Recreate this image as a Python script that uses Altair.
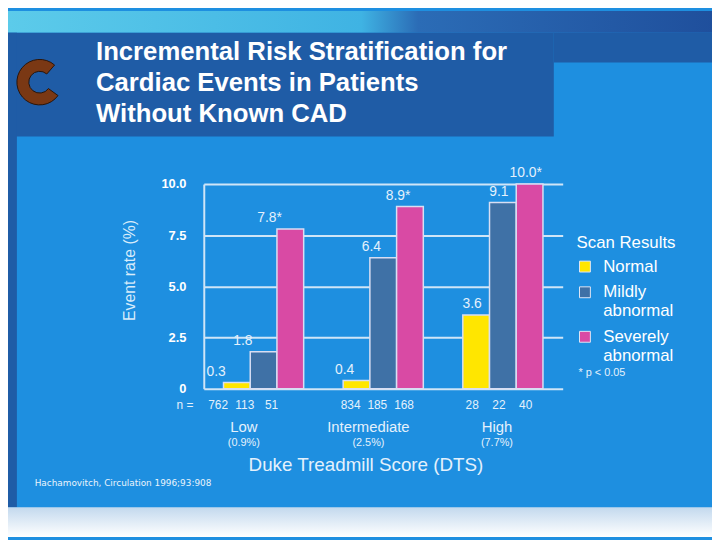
import altair as alt
import pandas as pd

# ---------------- data ----------------
groups = ["Low", "Intermediate", "High"]
group_rates = ["(0.9%)", "(2.5%)", "(7.7%)"]
scans = ["Normal", "Mildly abnormal", "Severely abnormal"]
scan_colors = ["#ffe600", "#3f71a6", "#d94aa4"]

rate_low = [0.3, 1.8, 7.8]
rate_intermediate = [0.4, 6.4, 8.9]
rate_high = [3.6, 9.1, 10.0]

sig_low = [False, False, True]
sig_intermediate = [False, False, True]
sig_high = [False, False, True]

n_low = [762, 113, 51]
n_intermediate = [834, 185, 168]
n_high = [28, 22, 40]

y_ticks = [0, 2.5, 5.0, 7.5, 10.0]

title_lines = ["Incremental Risk Stratification for",
               "Cardiac Events in Patients",
               "Without Known CAD"]
x_title = "Duke Treadmill Score (DTS)"
y_title = "Event rate (%)"
note = "* p < 0.05"
citation = "Hachamovitch, Circulation 1996;93:908"

rows = []
for g, rates, sigs, ns in zip(groups,
                              [rate_low, rate_intermediate, rate_high],
                              [sig_low, sig_intermediate, sig_high],
                              [n_low, n_intermediate, n_high]):
    for s, r, sg, n in zip(scans, rates, sigs, ns):
        rows.append({"group": g, "scan": s, "rate": r,
                     "label": f"{r:.1f}" + ("*" if sg else ""), "n": str(n)})
df = pd.DataFrame(rows)
gdf = pd.DataFrame({"group": groups, "pct": group_rates})
one = pd.DataFrame({"d": [0]})

# ---------------- encodings ----------------
FONT = "Liberation Sans"
LIGHT = "#e4f1fc"

X = alt.X("group:N", sort=groups, axis=None,
          scale=alt.Scale(paddingInner=0.33, paddingOuter=0.165))
XO = alt.XOffset("scan:N", sort=scans,
                 scale=alt.Scale(paddingInner=0, paddingOuter=0))
Y = alt.Y("rate:Q", scale=alt.Scale(domain=[0, 10], nice=False),
          axis=alt.Axis(values=y_ticks,
                        labelExpr="datum.value == 0 ? '0' : format(datum.value, '.1f')",
                        labelFont=FONT, labelFontWeight="bold", labelFontSize=13,
                        labelColor="white", labelPadding=18, ticks=False,
                        domainColor="#cfe5f7", domainWidth=2,
                        grid=True, gridColor="#cfe5f7", gridWidth=2, gridOpacity=1,
                        title=y_title, titleFont=FONT, titleFontSize=16,
                        titleFontWeight="normal", titleColor="#d8ecfb",
                        titleAngle=270, titleX=-75, titleY=87,
                        titleAlign="center", titleBaseline="middle"))
C = alt.Color("scan:N", sort=scans,
              scale=alt.Scale(domain=scans, range=scan_colors),
              legend=alt.Legend(title="Scan Results", orient="none",
                                legendX=377, legendY=52,
                                titleFont=FONT, titleFontSize=17,
                                titleFontWeight="normal", titleColor="white",
                                titlePadding=6,
                                labelFont=FONT, labelFontSize=17, labelColor="white",
                                labelExpr="split(datum.label, ' ')",
                                symbolType="square", symbolSize=121,
                                symbolStrokeColor="#dfe6f5", symbolStrokeWidth=1,
                                symbolOpacity=1, labelOffset=10, rowPadding=8))

# ---------------- decorations ----------------
def box(x1, x2, y1, y2, color):
    return alt.Chart(one).mark_rect(color=color).encode(
        x=alt.value(x1), x2=alt.value(x2), y=alt.value(y1), y2=alt.value(y2))

top_grad = alt.Gradient(gradient="linear", x1=0, x2=1, y1=0, y2=0,
                        stops=[alt.GradientStop(color="#5ccbea", offset=0),
                               alt.GradientStop(color="#3fb3e3", offset=0.5),
                               alt.GradientStop(color="#2b6cb6", offset=0.58),
                               alt.GradientStop(color="#1f4f9c", offset=1)])
bottom_grad = alt.Gradient(gradient="linear", x1=0, x2=0, y1=0, y2=1,
                           stops=[alt.GradientStop(color="#c3d9ee", offset=0),
                                  alt.GradientStop(color="#ffffff", offset=1)])

decor = [
    box(-198, 517, -175, -153, top_grad),
    box(-198, 354, -153, -48, "#1f5ca6"),
    box(354, 517, -153, -123, "#1f5ca6"),
    box(-198, -189, -153, 327, "#1f5ca6"),
    box(-198, 517, 327, 357, bottom_grad),
]

logo = alt.Chart(one).mark_arc(color="#7a3814", innerRadius=11, outerRadius=23,
                               stroke="#2a1408", strokeWidth=1).encode(
    x=alt.value(-166), y=alt.value(-103),
    theta=alt.value(2.2), theta2=alt.value(7.0))

# ---------------- chart layers ----------------
bars = alt.Chart(df).mark_bar(stroke="#d8def3", strokeWidth=1.5).encode(
    x=X, xOffset=XO, y=Y, color=C)

label_dx = [-21, -12, -4]
count_dx = [-19, -6, -4]
group_dx = [-20, -15, -6]

value_layers = []
count_layers = []
group_layers = []
for g, ldx, cdx, gdx in zip(groups, label_dx, count_dx, group_dx):
    value_layers.append(
        alt.Chart(df).transform_filter(alt.datum.group == g).mark_text(
            baseline="bottom", dy=-4, dx=ldx, font=FONT, fontSize=14, color=LIGHT
        ).encode(x=X, xOffset=XO, y=Y, text="label:N"))
    count_layers.append(
        alt.Chart(df).transform_filter(alt.datum.group == g).mark_text(
            baseline="middle", dx=cdx, font=FONT, fontSize=12, color=LIGHT
        ).encode(x=X, xOffset=XO, y=alt.value(224), text="n:N"))
    group_layers.append(
        alt.Chart(gdf).transform_filter(alt.datum.group == g).mark_text(
            baseline="middle", dx=gdx, font=FONT, fontSize=15, color=LIGHT
        ).encode(x=X, y=alt.value(246), text="group:N"))
    group_layers.append(
        alt.Chart(gdf).transform_filter(alt.datum.group == g).mark_text(
            baseline="middle", dx=gdx, font=FONT, fontSize=11, color=LIGHT
        ).encode(x=X, y=alt.value(262), text="pct:N"))

def free_text(txt, x, y, size, align="left", color=LIGHT, weight="normal",
              font=FONT, baseline="middle", **kw):
    return alt.Chart(one).mark_text(align=align, baseline=baseline, fontSize=size,
                                    color=color, fontWeight=weight, font=font, **kw
                                    ).encode(x=alt.value(x), y=alt.value(y),
                                             text=alt.value(txt))

texts = [
    free_text("n =", -19, 224, 12, align="center"),
    free_text(x_title, 164, 284, 19, align="center"),
    free_text(note, 379, 191, 11),
    free_text(citation, -171, 302, 9, font="DejaVu Sans", color="#eaf4fc"),
    free_text("\n".join(title_lines), -109, -125, 26, color="white",
              weight="bold", baseline="alphabetic", lineBreak="\n", lineHeight=31),
]

chart = alt.layer(*decor, logo, bars, *value_layers, *count_layers,
                  *group_layers, *texts).properties(
    width=363, height=207,
    autosize=alt.AutoSizeParams(type="none"),
    padding={"left": 198, "top": 175, "right": 151, "bottom": 150},
    background="#1e8fe0",
).configure_view(stroke=None)

chart.save("out.html", embed_options={"renderer": "svg", "actions": False})
